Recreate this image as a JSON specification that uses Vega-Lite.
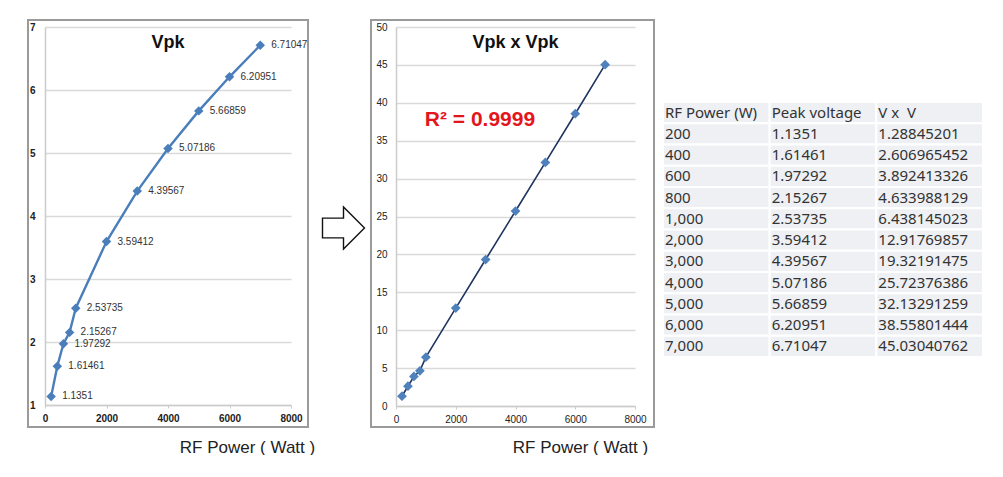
{
  "$schema": "https://vega.github.io/schema/vega-lite/v6.json",
  "background": "white",
  "padding": {"left": 26, "top": 19, "right": 0, "bottom": 0},
  "config": {
    "view": {"stroke": null},
    "font": "Liberation Sans",
    "text": {"font": "Liberation Sans"}
  },
  "datasets": {
    "vpk": [
      {"power": 200, "vpk": 1.1351, "vv": 1.28845201},
      {"power": 400, "vpk": 1.61461, "vv": 2.606965452},
      {"power": 600, "vpk": 1.97292, "vv": 3.892413326},
      {"power": 800, "vpk": 2.15267, "vv": 4.633988129},
      {"power": 1000, "vpk": 2.53735, "vv": 6.438145023},
      {"power": 2000, "vpk": 3.59412, "vv": 12.91769857},
      {"power": 3000, "vpk": 4.39567, "vv": 19.32191475},
      {"power": 4000, "vpk": 5.07186, "vv": 25.72376386},
      {"power": 5000, "vpk": 5.66859, "vv": 32.13291259},
      {"power": 6000, "vpk": 6.20951, "vv": 38.55801444},
      {"power": 7000, "vpk": 6.71047, "vv": 45.03040762}
    ],
    "table": [
      {"r": 0, "a": "RF Power (W)", "b": "Peak voltage", "c": "V x\u00a0 V"},
      {"r": 1, "a": "200", "b": "1.1351", "c": "1.28845201"},
      {"r": 2, "a": "400", "b": "1.61461", "c": "2.606965452"},
      {"r": 3, "a": "600", "b": "1.97292", "c": "3.892413326"},
      {"r": 4, "a": "800", "b": "2.15267", "c": "4.633988129"},
      {"r": 5, "a": "1,000", "b": "2.53735", "c": "6.438145023"},
      {"r": 6, "a": "2,000", "b": "3.59412", "c": "12.91769857"},
      {"r": 7, "a": "3,000", "b": "4.39567", "c": "19.32191475"},
      {"r": 8, "a": "4,000", "b": "5.07186", "c": "25.72376386"},
      {"r": 9, "a": "5,000", "b": "5.66859", "c": "32.13291259"},
      {"r": 10, "a": "6,000", "b": "6.20951", "c": "38.55801444"},
      {"r": 11, "a": "7,000", "b": "6.71047", "c": "45.03040762"}
    ]
  },
  "spacing": 0,
  "bounds": "flush",
  "hconcat": [
    {
      "width": 246,
      "height": 378,
      "title": {"text": "Vpk", "fontSize": 18, "fontWeight": "bold", "color": "#111", "offset": -33, "frame": "group", "anchor": "middle"},
      "layer": [
        {
          "data": {"name": "vpk"},
          "mark": {"type": "line", "color": "#4a7ebb", "strokeWidth": 2.4},
          "encoding": {
            "x": {
              "field": "power", "type": "quantitative",
              "scale": {"domain": [0, 8000], "nice": false, "zero": false},
              "axis": {
                "values": [0, 2000, 4000, 6000, 8000], "format": "d", "grid": false, "labelFlush": false,
                "domainColor": "#cccccc", "domainWidth": 1.5, "tickColor": "#cccccc", "tickSize": 3,
                "labelFontSize": 10, "labelFontWeight": "bold", "labelColor": "#222", "labelPadding": 5,
                "title": "RF Power ( Watt )", "titleFontSize": 17, "titleFontWeight": "normal", "titleColor": "#222",
                "titleX": 202, "titleY": 42, "titleAlign": "center", "titleBaseline": "middle"
              }
            },
            "y": {
              "field": "vpk", "type": "quantitative",
              "scale": {"domain": [1, 7], "nice": false, "zero": false},
              "axis": {
                "values": [1, 2, 3, 4, 5, 6, 7], "format": "d", "grid": true, "gridColor": "#d9d9d9", "gridWidth": 1.5,
                "domainColor": "#cccccc", "domainWidth": 1.5, "ticks": false, "labelOverlap": false,
                "labelFontSize": 10, "labelFontWeight": "bold", "labelColor": "#222", "labelPadding": 10,
                "title": null
              }
            }
          }
        },
        {
          "data": {"values": [{}]},
          "mark": {"type": "rect", "fill": null, "stroke": "#9a9a9a", "strokeWidth": 2, "clip": false},
          "encoding": {
            "x": {"datum": -553, "type": "quantitative"},
            "x2": {"datum": 8553},
            "y": {"datum": 7.111, "type": "quantitative"},
            "y2": {"datum": 0.651}
          }
        },
        {
          "data": {"name": "vpk"},
          "mark": {"type": "point", "shape": "diamond", "filled": true, "size": 90, "color": "#4a7ebb", "opacity": 1},
          "encoding": {
            "x": {"field": "power", "type": "quantitative"},
            "y": {"field": "vpk", "type": "quantitative"}
          }
        },
        {
          "data": {"name": "vpk"},
          "mark": {"type": "text", "align": "left", "baseline": "middle", "dx": 11, "fontSize": 10, "color": "#333"},
          "encoding": {
            "x": {"field": "power", "type": "quantitative"},
            "y": {"field": "vpk", "type": "quantitative"},
            "text": {"field": "vpk", "type": "nominal"}
          }
        }
      ]
    },
    {
      "width": 105,
      "height": 402,
      "data": {"values": [{}]},
      "mark": {
        "type": "point",
        "shape": "M-1,-0.47L0,-0.47L0,-1L1,0L0,1L0,0.47L-1,0.47Z",
        "size": 1764, "filled": false, "fill": "white", "stroke": "#111", "strokeWidth": 1.4, "opacity": 1
      },
      "encoding": {}
    },
    {
      "width": 239,
      "height": 379,
      "title": {"text": "Vpk x Vpk", "fontSize": 18, "fontWeight": "bold", "color": "#111", "offset": -33, "frame": "group", "anchor": "middle"},
      "layer": [
        {
          "data": {"name": "vpk"},
          "mark": {"type": "line", "color": "#1f3560", "strokeWidth": 1.6},
          "encoding": {
            "x": {
              "field": "power", "type": "quantitative",
              "scale": {"domain": [0, 8000], "nice": false, "zero": false},
              "axis": {
                "values": [0, 2000, 4000, 6000, 8000], "format": "d", "grid": false, "labelFlush": false,
                "domainColor": "#cccccc", "domainWidth": 1.5, "tickColor": "#cccccc", "tickSize": 3,
                "labelFontSize": 10, "labelFontWeight": "normal", "labelColor": "#222", "labelPadding": 5,
                "title": "RF Power ( Watt )", "titleFontSize": 17, "titleFontWeight": "normal", "titleColor": "#222",
                "titleX": 184, "titleY": 41, "titleAlign": "center", "titleBaseline": "middle"
              }
            },
            "y": {
              "field": "vv", "type": "quantitative",
              "scale": {"domain": [0, 50], "nice": false, "zero": false},
              "axis": {
                "values": [0, 5, 10, 15, 20, 25, 30, 35, 40, 45, 50], "format": "d", "grid": true, "gridColor": "#d9d9d9", "gridWidth": 1.5,
                "domainColor": "#cccccc", "domainWidth": 1.5, "ticks": false, "labelOverlap": false,
                "labelFontSize": 10, "labelFontWeight": "normal", "labelColor": "#222", "labelPadding": 9,
                "title": null
              }
            }
          }
        },
        {
          "data": {"values": [{}]},
          "mark": {"type": "rect", "fill": null, "stroke": "#9a9a9a", "strokeWidth": 2, "clip": false},
          "encoding": {
            "x": {"datum": -837, "type": "quantitative"},
            "x2": {"datum": 8636},
            "y": {"datum": 50.92, "type": "quantitative",
              "axis": {
                "values": [0, 5, 10, 15, 20, 25, 30, 35, 40, 45, 50], "format": "d", "grid": true, "gridColor": "#d9d9d9", "gridWidth": 1.5,
                "domainColor": "#cccccc", "domainWidth": 1.5, "ticks": false, "labelOverlap": false,
                "labelFontSize": 10, "labelFontWeight": "normal", "labelColor": "#222", "labelPadding": 9,
                "title": null
              }},
            "y2": {"datum": -2.77}
          }
        },
        {
          "data": {"name": "vpk"},
          "mark": {"type": "point", "shape": "diamond", "filled": true, "size": 95, "color": "#4f81bd", "opacity": 1},
          "encoding": {
            "x": {"field": "power", "type": "quantitative"},
            "y": {"field": "vv", "type": "quantitative",
              "axis": {
                "values": [0, 5, 10, 15, 20, 25, 30, 35, 40, 45, 50], "format": "d", "grid": true, "gridColor": "#d9d9d9", "gridWidth": 1.5,
                "domainColor": "#cccccc", "domainWidth": 1.5, "ticks": false, "labelOverlap": false,
                "labelFontSize": 10, "labelFontWeight": "normal", "labelColor": "#222", "labelPadding": 9,
                "title": null
              }}
          }
        },
        {
          "data": {"values": [{"label": "R² = 0.9999"}]},
          "mark": {"type": "text", "align": "center", "baseline": "middle", "fontSize": 21, "fontWeight": "bold", "color": "#e3161e"},
          "encoding": {
            "x": {"datum": 2810, "type": "quantitative"},
            "y": {"datum": 37.7, "type": "quantitative",
              "axis": {
                "values": [0, 5, 10, 15, 20, 25, 30, 35, 40, 45, 50], "format": "d", "grid": true, "gridColor": "#d9d9d9", "gridWidth": 1.5,
                "domainColor": "#cccccc", "domainWidth": 1.5, "ticks": false, "labelOverlap": false,
                "labelFontSize": 10, "labelFontWeight": "normal", "labelColor": "#222", "labelPadding": 9,
                "title": null
              }},
            "text": {"field": "label", "type": "nominal"}
          }
        }
      ]
    },
    {
      "width": 348,
      "height": 330,
      "data": {"name": "table"},
      "transform": [{"fold": ["a", "b", "c"], "as": ["col", "txt"]}],
      "encoding": {
        "x": {"field": "col", "type": "nominal", "sort": ["a", "b", "c"], "axis": null,
              "scale": {"paddingInner": 0, "paddingOuter": 0.131, "align": 1}},
        "y": {"field": "r", "type": "ordinal", "axis": null,
              "scale": {"domain": [-3, -2, -1, 0, 1, 2, 3, 4, 5, 6, 7, 8, 9, 10, 11], "paddingInner": 0, "paddingOuter": 0.265, "align": 1}}
      },
      "layer": [
        {"mark": {"type": "rect", "fill": "#eef0f3", "stroke": "white", "strokeWidth": 2}},
        {
          "mark": {"type": "text", "align": "left", "baseline": "middle", "dx": 2, "fontSize": 15, "font": "Noto Sans", "color": "#333"},
          "encoding": {
            "x": {"field": "col", "type": "nominal", "sort": ["a", "b", "c"], "bandPosition": 0},
            "text": {"field": "txt", "type": "nominal"}
          }
        }
      ]
    }
  ]
}
